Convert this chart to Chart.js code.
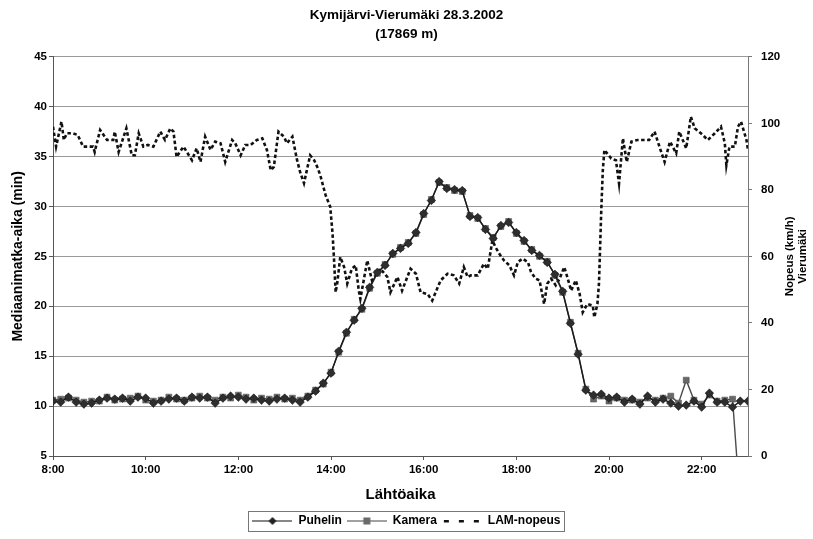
<!DOCTYPE html>
<html><head><meta charset="utf-8">
<script src="https://cdn.jsdelivr.net/npm/chart.js@4.4.1/dist/chart.umd.min.js"></script>
<style>html,body{margin:0;padding:0;background:#fff}#wrap{width:813px;height:539px}</style>
</head><body><div id="wrap"><canvas id="c" width="813" height="539"></canvas></div>
<script>
// ---- text ----
const chartTitle = ['Kymijärvi-Vierumäki 28.3.2002', '(17869 m)'];
const leftAxisTitle = 'Mediaanimatka-aika (min)';
const rightAxisTitle = ['Nopeus (km/h)', 'Vierumäki'];
const xAxisTitle = 'Lähtöaika';
const seriesNames = ['Puhelin', 'Kamera', 'LAM-nopeus'];

// ---- x axis ticks (minutes after midnight) ----
const xTickValues = [480, 600, 720, 840, 960, 1080, 1200, 1320];
const xTickLabels = ['8:00', '10:00', '12:00', '14:00', '16:00', '18:00', '20:00', '22:00'];

// ---- travel-time series: one value every 10 min from 8:00 to 23:00 ----
const travelStartMinute = 480;
const travelStepMinutes = 10;
const puhelin = [
  10.5,10.4,10.9,10.4,10.2,10.3,10.6,10.8,10.7,10.8,10.5,10.9,10.8,10.3,10.5,10.7,10.8,10.5,10.9,10.8,
  10.9,10.3,10.8,11.0,10.9,10.7,10.8,10.6,10.5,10.7,10.8,10.6,10.4,
  10.9,11.5,12.3,13.3,15.5,17.4,18.6,19.8,21.9,23.4,24.1,25.3,25.8,26.3,27.4,29.3,30.6,32.5,
  31.8,31.7,31.6,29.0,28.9,27.7,26.8,28.1,28.4,27.4,26.6,25.6,25.1,24.4,23.2,21.5,18.3,15.2,11.6,
  11.1,11.2,10.8,10.9,10.4,10.7,10.2,11.0,10.4,10.7,10.3,10.0,10.1,10.5,9.9,11.3,10.4,10.4,9.9,10.5,10.5
];
const kamera = [
  10.6,10.7,10.8,10.6,10.4,10.5,10.5,10.9,10.6,10.7,10.8,11.0,10.6,10.5,10.6,10.9,10.7,10.6,10.8,11.0,
  10.8,10.6,10.9,10.8,11.1,10.9,10.6,10.8,10.7,10.9,10.7,10.8,10.6,
  11.0,11.6,12.2,13.4,15.4,17.3,18.7,19.7,21.8,23.3,24.2,25.2,25.9,26.4,27.3,29.2,30.7,32.4,
  31.9,31.6,31.5,29.1,28.8,27.8,26.9,28.0,28.5,27.3,26.5,25.7,25.0,24.5,23.1,21.4,18.4,15.3,11.7,
  10.7,11.0,10.5,10.8,10.6,10.6,10.4,10.8,10.6,10.8,11.0,10.3,12.6,10.6,10.2,11.1,10.5,10.6,10.7,0,null
];

// ---- LAM speed (km/h), right axis ----
const lamMinutes = [
  480,484,491,494,498,506,512,519,526,532,534,541,550,558,560,565,575,582,586,591,597,603,610,619,625,
  632,636,640,649,660,666,671,677,684,690,697,703,712,716,723,729,736,744,751,757,762,766,772,779,783,
  790,796,800,805,813,818,822,826,833,839,842,844,846,848,852,857,861,867,872,876,878,887,893,904,913,
  917,926,932,943,950,956,965,971,982,991,999,1006,1012,1017,1021,1030,1038,1043,1049,1053,1058,1064,
  1071,1077,1082,1088,1095,1099,1105,1110,1116,1120,1125,1131,1136,1142,1146,1151,1157,1162,1166,1172,
  1179,1181,1185,1187,1190,1192,1194,1203,1209,1213,1218,1223,1229,1237,1244,1252,1259,1266,1272,1279,
  1287,1291,1300,1306,1311,1319,1328,1337,1345,1350,1352,1356,1363,1367,1371,1378,1380
];
const lamSpeed = [
  99,93,100.5,95,97,97,96.5,93,93,93,91.4,98,95,95,97.5,91.4,98.5,90.4,90.4,97,93,93.5,93,97.5,95,
  98.5,97.5,89.9,93,88.9,92.5,88.4,96,92,94.5,94,88.4,95,94,90.4,93.5,93.5,95,95.5,92,85.9,86.9,97.5,96,94,
  96,89,85.4,82,90.4,89,87,84.5,78.4,74.9,66.9,58.8,49.2,51.8,59.8,56.8,51.8,56.3,57.3,49.7,47.2,58.8,52.8,56.3,53.8,
  49.2,53.8,49.7,56.3,54.8,49.2,48.7,46.7,52.8,54.8,54.3,51.8,56.8,53.8,54.3,54.3,57.8,56.3,64.8,62.8,60.8,58.8,
  57.3,54.3,58.3,59.3,58.3,55.3,53.3,52.8,45.7,51.8,53.3,51.3,53.3,56.8,53.8,49.7,52.8,48.7,43.2,45.7,
  45.2,41.7,45.7,51.8,73.9,85.9,92,89.4,88.9,81.9,95.5,88.4,94.5,95,95,95,97.5,92.5,88.4,94.5,
  91,97.5,92.5,102,98.5,97,95,97,99,94,87.4,93,93,99,100.5,95,92
];

// ---- build library data from the arrays ----
const toXY = arr => arr.map((v, i) => ({x: travelStartMinute + i * travelStepMinutes, y: v}));
const lamXY = lamMinutes.map((m, i) => ({x: m, y: lamSpeed[i]}));

const FONT = "'Liberation Sans', Arial, Helvetica, sans-serif";
Chart.defaults.font.family = FONT;
Chart.defaults.color = '#000';

function legendSwatch(kind) {
  const c = document.createElement('canvas');
  c.width = 40; c.height = 10;
  const g = c.getContext('2d');
  if (kind === 'lam') {
    g.fillStyle = '#111';
    [2, 17, 32].forEach(x => g.fillRect(x, 4, 5, 2.5));
  } else {
    g.strokeStyle = kind === 'p' ? '#111' : '#444';
    g.lineWidth = 1.2;
    g.beginPath(); g.moveTo(0, 5); g.lineTo(40, 5); g.stroke();
    if (kind === 'p') {
      g.fillStyle = '#222';
      g.beginPath(); g.moveTo(20, 1); g.lineTo(24, 5); g.lineTo(20, 9); g.lineTo(16, 5); g.closePath(); g.fill();
    } else {
      g.fillStyle = '#6a6a6a';
      g.fillRect(16.5, 1.5, 7, 7);
    }
  }
  return c;
}
const swatches = [legendSwatch('p'), legendSwatch('k'), legendSwatch('lam')];

const extraText = {
  id: 'extraText',
  afterDraw(chart) {
    const {ctx, chartArea} = chart;
    ctx.save();
    // right axis title, reading bottom to top
    ctx.font = 'bold 11.5px ' + FONT;
    ctx.fillStyle = '#000';
    ctx.textAlign = 'center';
    ctx.textBaseline = 'middle';
    const cy = (chartArea.top + chartArea.bottom) / 2;
    ctx.translate(790, cy);
    ctx.rotate(-Math.PI / 2);
    ctx.fillText(rightAxisTitle[0], 0, 0);
    ctx.fillText(rightAxisTitle[1], 0, 13);
    ctx.restore();
    // legend frame
    const boxes = chart.legend.legendHitBoxes;
    if (boxes && boxes.length) {
      let l = Infinity, r = -Infinity, t = Infinity, b = -Infinity;
      boxes.forEach(h => { l = Math.min(l, h.left); r = Math.max(r, h.left + h.width); t = Math.min(t, h.top); b = Math.max(b, h.top + h.height); });
      ctx.save();
      ctx.strokeStyle = '#777';
      ctx.lineWidth = 1;
      ctx.strokeRect(Math.round(l - 4) + 0.5, Math.round(t - 4) + 0.5, Math.round(r - l + 8), Math.round(b - t + 8));
      ctx.restore();
    }
  }
};

new Chart(document.getElementById('c'), {
  type: 'line',
  data: {
    datasets: [
      {
        label: seriesNames[0], data: toXY(puhelin), yAxisID: 'y',
        borderColor: '#1a1a1a', borderWidth: 1.4, backgroundColor: '#2e2e2e',
        pointStyle: 'rectRot', pointRadius: 4.3, pointBorderWidth: 0.5, pointBorderColor: '#111',
        tension: 0, spanGaps: false
      },
      {
        label: seriesNames[1], data: toXY(kamera), yAxisID: 'y',
        borderColor: '#4a4a4a', borderWidth: 1.4, backgroundColor: '#686868',
        pointStyle: 'rect', pointRadius: 4.2, pointBorderWidth: 0.5, pointBorderColor: '#444',
        tension: 0, spanGaps: false
      },
      {
        label: seriesNames[2], data: lamXY, yAxisID: 'y1',
        borderColor: '#111', borderWidth: 2.6, borderDash: [3.5, 2.5],
        pointRadius: 0, tension: 0
      }
    ]
  },
  options: {
    responsive: false,
    animation: false,
    devicePixelRatio: 1,
    layout: {padding: {left: 0, right: 0, top: 0, bottom: 2}},
    plugins: {
      title: {
        display: true, text: chartTitle, color: '#000',
        font: {size: 13.5, weight: 'bold', lineHeight: 1.4},
        padding: {top: 6, bottom: 13}
      },
      legend: {
        position: 'bottom',
        labels: {
          usePointStyle: true, pointStyleWidth: 40, padding: 5,
          font: {size: 12, weight: 'bold'}, color: '#000',
          generateLabels: chart => chart.data.datasets.map((ds, i) => ({
            text: ds.label, pointStyle: swatches[i], fillStyle: '#000', strokeStyle: '#000',
            lineWidth: 0, hidden: false, datasetIndex: i, fontColor: '#000'
          }))
        }
      },
      tooltip: {enabled: false}
    },
    scales: {
      x: {
        type: 'linear', min: 480, max: 1380,
        afterBuildTicks: s => { s.ticks = xTickValues.map(v => ({value: v})); },
        afterFit: s => { s.height = 54; },
        ticks: {
          autoSkip: false, maxRotation: 0, padding: 3,
          font: {size: 11.5, weight: 'bold'}, color: '#000',
          callback: v => { const k = xTickValues.indexOf(v); return k >= 0 ? xTickLabels[k] : ''; }
        },
        grid: {drawOnChartArea: false, drawTicks: true, tickLength: 4, color: '#555'},
        border: {display: true, color: '#555', width: 1},
        title: {display: true, text: xAxisTitle, font: {size: 15, weight: 'bold', lineHeight: 1.2}, padding: {top: 2, bottom: 6}, color: '#000'}
      },
      y: {
        position: 'left', min: 5, max: 45,
        afterFit: s => { s.width = 53; },
        ticks: {stepSize: 5, padding: 2, font: {size: 11.5, weight: 'bold'}, color: '#000'},
        grid: {color: '#9a9a9a', lineWidth: 1, tickLength: 4, tickColor: '#555'},
        border: {display: true, color: '#555', width: 1},
        title: {display: true, text: leftAxisTitle, font: {size: 14, weight: 'bold', lineHeight: 1.2}, padding: {top: 10, bottom: 0}, color: '#000'}
      },
      y1: {
        position: 'right', min: 0, max: 120,
        afterFit: s => { s.width = 65; },
        ticks: {stepSize: 20, padding: 9, font: {size: 11.5, weight: 'bold'}, color: '#000'},
        grid: {drawOnChartArea: false, tickLength: 4, color: '#777'},
        border: {display: true, color: '#777', width: 1},
        title: {display: false}
      }
    }
  },
  plugins: [extraText]
});
</script>
</body></html>
